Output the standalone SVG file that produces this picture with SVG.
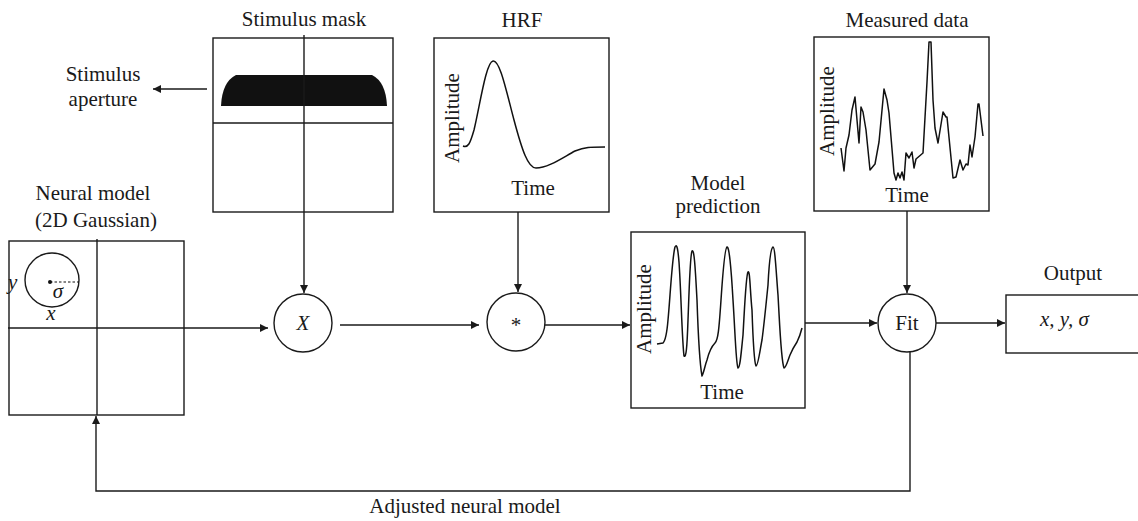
<svg xmlns="http://www.w3.org/2000/svg" width="1138" height="521" viewBox="0 0 1138 521">
<style>
text{font-family:"Liberation Serif","DejaVu Serif",serif;font-size:21px;fill:#1a1a1a}
.c{text-anchor:middle}
.i{font-style:italic}
.box{fill:#fff;stroke:#1a1a1a;stroke-width:1.4}
.ln{fill:none;stroke:#1a1a1a;stroke-width:1.4}
.cv{fill:none;stroke:#111;stroke-width:1.5;stroke-linejoin:round}
.con{fill:none;stroke:#1a1a1a;stroke-width:1.4}
</style>
<defs>
<marker id="ah" viewBox="0 0 10 10" refX="10" refY="5" markerWidth="8" markerHeight="8" markerUnits="userSpaceOnUse" orient="auto">
<path d="M0,0 L10,5 L0,10 Z" fill="#1a1a1a"/>
</marker>
</defs>

<g id="stimulus-aperture-label">
<text class="c" x="103" y="81">Stimulus</text>
<text class="c" x="103" y="106">aperture</text>
</g>

<g id="stimulus-mask">
<text class="c" x="304" y="26">Stimulus mask</text>
<rect class="box" x="213" y="38" width="180" height="174"/>
<path d="M236,75 L372,75 Q386,82 387,106 L221,106 Q222,82 236,75 Z" fill="#111"/>
<line class="ln" x1="213" y1="123" x2="393" y2="123"/>
<line class="ln" x1="304" y1="35" x2="304" y2="212"/>
</g>

<g id="hrf">
<text class="c" x="522" y="27">HRF</text>
<rect class="box" x="434" y="38" width="175" height="174"/>
<path class="cv" d="M463,146 C468,148 470,144 474,130 C480,105 486,62 493,61 C500,60 506,90 514,120 C522,150 528,168 536,168 C548,168 562,158 575,151 C585,147 590,147 605,147"/>
<text class="c" transform="translate(459,118) rotate(-90)">Amplitude</text>
<text class="c" x="533" y="195">Time</text>
</g>

<g id="measured-data">
<text class="c" x="907" y="27">Measured data</text>
<rect class="box" x="814" y="37" width="175" height="174"/>
<path class="cv" d="M841,148 L844,171 L846,148 L849,135 L852,110 L855,97 L859,143 L861,107 L863,112 L866,130 L870,170 L875,164 L879,142 L884,89 L887,100 L889,113 L894,173 L896,180 L898,173 L900,178 L902,172 L904,180 L906,153 L909,158 L912,152 L914,168 L916,159 L923,153 L927,82 L929,42 L931,42 L933,100 L935,128 L938,143 L943,112 L946,117 L947,117 L953,178 L956,177 L960,160 L963,170 L966,164 L968,165 L970,145 L972,157 L975,137 L978,104 L979,104 L983,136"/>
<text class="c" transform="translate(834,111) rotate(-90)">Amplitude</text>
<text class="c" x="907" y="202">Time</text>
</g>

<g id="neural-model">
<text class="c" x="93" y="200">Neural model</text>
<text class="c" x="96" y="227">(2D Gaussian)</text>
<rect class="box" x="9" y="241" width="175" height="174"/>
<line class="ln" x1="97" y1="239" x2="97" y2="415"/>
<line class="ln" x1="8" y1="328" x2="184" y2="328"/>
<circle class="ln" cx="52" cy="280" r="27"/>
<circle cx="50" cy="282" r="2" fill="#111"/>
<line x1="50" y1="282" x2="79" y2="282" stroke="#111" stroke-width="1.2" stroke-dasharray="2.5,2"/>
<text class="c i" x="58" y="298">σ</text>
<text class="i" x="8" y="289">y</text>
<text class="c i" x="51" y="320">x</text>
</g>

<g id="multiply">
<circle class="box" cx="303" cy="323" r="29"/>
<text class="c i" x="303" y="330">X</text>
</g>

<g id="convolve">
<circle class="box" cx="516" cy="322" r="29"/>
<text class="c" x="516" y="332">*</text>
</g>

<g id="model-prediction">
<text class="c" x="718" y="190">Model</text>
<text class="c" x="718" y="213">prediction</text>
<rect class="box" x="631" y="232" width="174" height="176"/>
<path class="cv" d="M657,344 L663,343 C666,340 667,332 668,320 C670,300 672,258 675,247 C677,243 678,250 679,262 C681,290 682,340 684,356 C686,358 687,350 688,320 C689,295 690,255 692,251 C694,249 695,262 697,300 C698,330 699,360 702,376 C704,372 705,365 707,360 C709,352 712,346 715,343 C718,340 719,330 721,300 C723,270 725,248 727,247 C729,246 731,265 733,300 C735,330 736,365 738,368 C740,368 741,355 743,335 C745,300 746,275 748,272 C750,270 750,290 752,310 C753,340 754,362 756,366 C758,366 760,350 762,340 C764,325 766,305 768,285 C769,265 771,248 773,247 C775,247 776,270 778,295 C780,330 781,360 784,368 C786,368 788,360 790,355 C792,350 795,345 797,342 C799,338 801,332 802,328"/>
<text class="c" transform="translate(651,309) rotate(-90)">Amplitude</text>
<text class="c" x="722" y="399">Time</text>
</g>

<g id="fit">
<circle class="box" cx="907" cy="323" r="29"/>
<text class="c" x="907" y="330">Fit</text>
</g>

<g id="output">
<text class="c" x="1073" y="280">Output</text>
<rect class="box" x="1006" y="295" width="140" height="58"/>
<text class="i" x="1040" y="326" xml:space="preserve">x, y, σ</text>
</g>

<g id="adjusted-label">
<text class="c" x="465" y="513">Adjusted neural model</text>
</g>

<g id="connectors">
<line class="con" x1="207" y1="89" x2="153" y2="89" marker-end="url(#ah)"/>
<line class="con" x1="304" y1="212" x2="304" y2="293" marker-end="url(#ah)"/>
<line class="con" x1="184" y1="328" x2="268" y2="328" marker-end="url(#ah)"/>
<line class="con" x1="340" y1="325" x2="479" y2="325" marker-end="url(#ah)"/>
<line class="con" x1="518" y1="212" x2="518" y2="292" marker-end="url(#ah)"/>
<line class="con" x1="545" y1="325" x2="630" y2="325" marker-end="url(#ah)"/>
<line class="con" x1="805" y1="323" x2="877" y2="323" marker-end="url(#ah)"/>
<line class="con" x1="907" y1="211" x2="907" y2="293" marker-end="url(#ah)"/>
<line class="con" x1="936" y1="323" x2="1005" y2="323" marker-end="url(#ah)"/>
<polyline class="con" points="910,352 910,491 96,491 96,416" marker-end="url(#ah)"/>
</g>
</svg>
